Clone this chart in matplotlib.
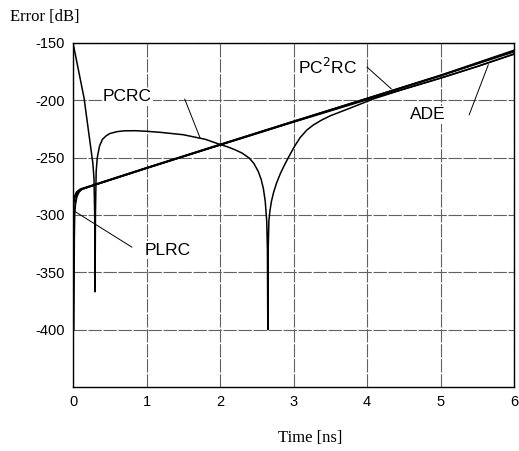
import matplotlib
matplotlib.use("Agg")
import matplotlib.pyplot as plt

plt.rcParams["axes.unicode_minus"] = False

# ---- data ----
pc2rc_x = [0.0, 0.02, 0.05, 0.1, 0.3, 1.0, 2.0, 3.0, 4.0, 5.0, 6.0]
pc2rc_y = [-290, -284, -280, -277.5, -273.5, -259, -238.7, -218.5, -198.5, -178.3, -156.5]

ade_x = [0.0, 0.02, 0.05, 0.1, 0.3, 1.0, 2.0, 3.0, 4.0, 4.5, 5.0, 5.5, 6.0]
ade_y = [-293, -286, -281, -278, -273.8, -259.3, -239, -219, -199.5, -190.2, -180.6, -170.5, -159.5]

plrc_x = [0.008, 0.012, 0.015, 0.02, 0.03, 0.05, 0.08, 0.12, 0.3, 1.0, 2.0, 3.0, 4.0, 5.0, 6.0]
plrc_y = [-400, -360, -320, -300, -291, -284, -280, -277.5, -273.5, -259, -238.7, -218.5, -198.5, -178.5, -157.5]

pcrc_x = [0.0, 0.15, 0.27, 0.285, 0.295, 0.30, 0.305, 0.315, 0.33, 0.36, 0.40, 0.45, 0.5, 0.6,
          0.7, 0.85, 1.0, 1.2, 1.5, 1.8, 2.0, 2.1, 2.2, 2.3, 2.4, 2.46, 2.52, 2.56, 2.59,
          2.615, 2.635, 2.645, 2.65, 2.655, 2.665, 2.68, 2.70, 2.73, 2.77, 2.82, 2.88, 2.95,
          3.02, 3.09, 3.18, 3.27, 3.38, 3.5, 3.77, 4.0, 4.1, 4.5, 5.0, 5.5, 6.0]
pcrc_y = [-150, -198, -255, -268, -300, -367, -300, -262, -250, -240, -234, -231, -229, -227.3,
          -226.6, -226.5, -227, -228, -230, -234, -238.5, -240.5, -243, -246, -250.5, -255, -262, -269, -277,
          -288, -305, -330, -400, -330, -305, -296, -288, -280, -272, -264, -256, -247.5,
          -239.5, -232.5, -226, -221.5, -217.3, -213.5, -206.8, -201, -198.5, -190.3, -180.7, -170.5, -159.8]

x_ticks = [0, 1, 2, 3, 4, 5, 6]
y_ticks = [-400, -350, -300, -250, -200, -150]

labels = ["PCRC", "PC$^2$RC", "ADE", "PLRC"]
label_pos = [(0.74, -197), (3.46, -171), (4.83, -212.6), (1.29, -330.6)]
pointer_start = [(1.52, -199), (4.0, -171), (5.39, -212.6), (0.80, -328)]
pointer_end = [(1.73, -233), (4.33, -190), (5.65, -169), (0.027, -297)]

# ---- figure ----
fig = plt.figure(figsize=(5.19, 4.51), dpi=100)
ax = fig.add_axes([0.1407, 0.1419, 0.8497, 0.7628])

ax.set_xlim(0, 6)
ax.set_ylim(-450, -150)
ax.set_xticks(x_ticks)
ax.set_yticks(y_ticks)
ax.tick_params(length=0, labelsize=10.5, pad=6)
for lab in ax.get_xticklabels() + ax.get_yticklabels():
    lab.set_family("Liberation Sans")
ax.grid(True, color="0.38", linewidth=0.8, linestyle=(0, (12, 1.5)))
for sp in ax.spines.values():
    sp.set_linewidth(1.0)
    sp.set_color("black")

lw = 1.1
ax.plot(pc2rc_x, pc2rc_y, color="black", lw=1.4, zorder=3)
ax.plot(ade_x, ade_y, color="black", lw=lw, zorder=3)
ax.plot(plrc_x, plrc_y, color="black", lw=1.4, zorder=3)
ax.plot(pcrc_x, pcrc_y, color="black", lw=lw, zorder=3)

for txt, (tx, ty), (sx, sy), (ex, ey) in zip(labels, label_pos, pointer_start, pointer_end):
    ax.text(tx, ty, txt, ha="center", va="center", fontsize=12.5,
            family="Liberation Sans", zorder=5,
            bbox=dict(facecolor="white", edgecolor="none", pad=1.0))
    ax.plot([sx, ex], [sy, ey], color="black", lw=0.7, zorder=4)

fig.text(10 / 519, 1 - 17 / 451, "Error [dB]", ha="left", va="center",
         fontsize=12, family="Liberation Serif")
fig.text(310 / 519, 1 - 438 / 451, "Time [ns]", ha="center", va="center",
         fontsize=12, family="Liberation Serif")

fig.savefig("out.png", dpi=100)
